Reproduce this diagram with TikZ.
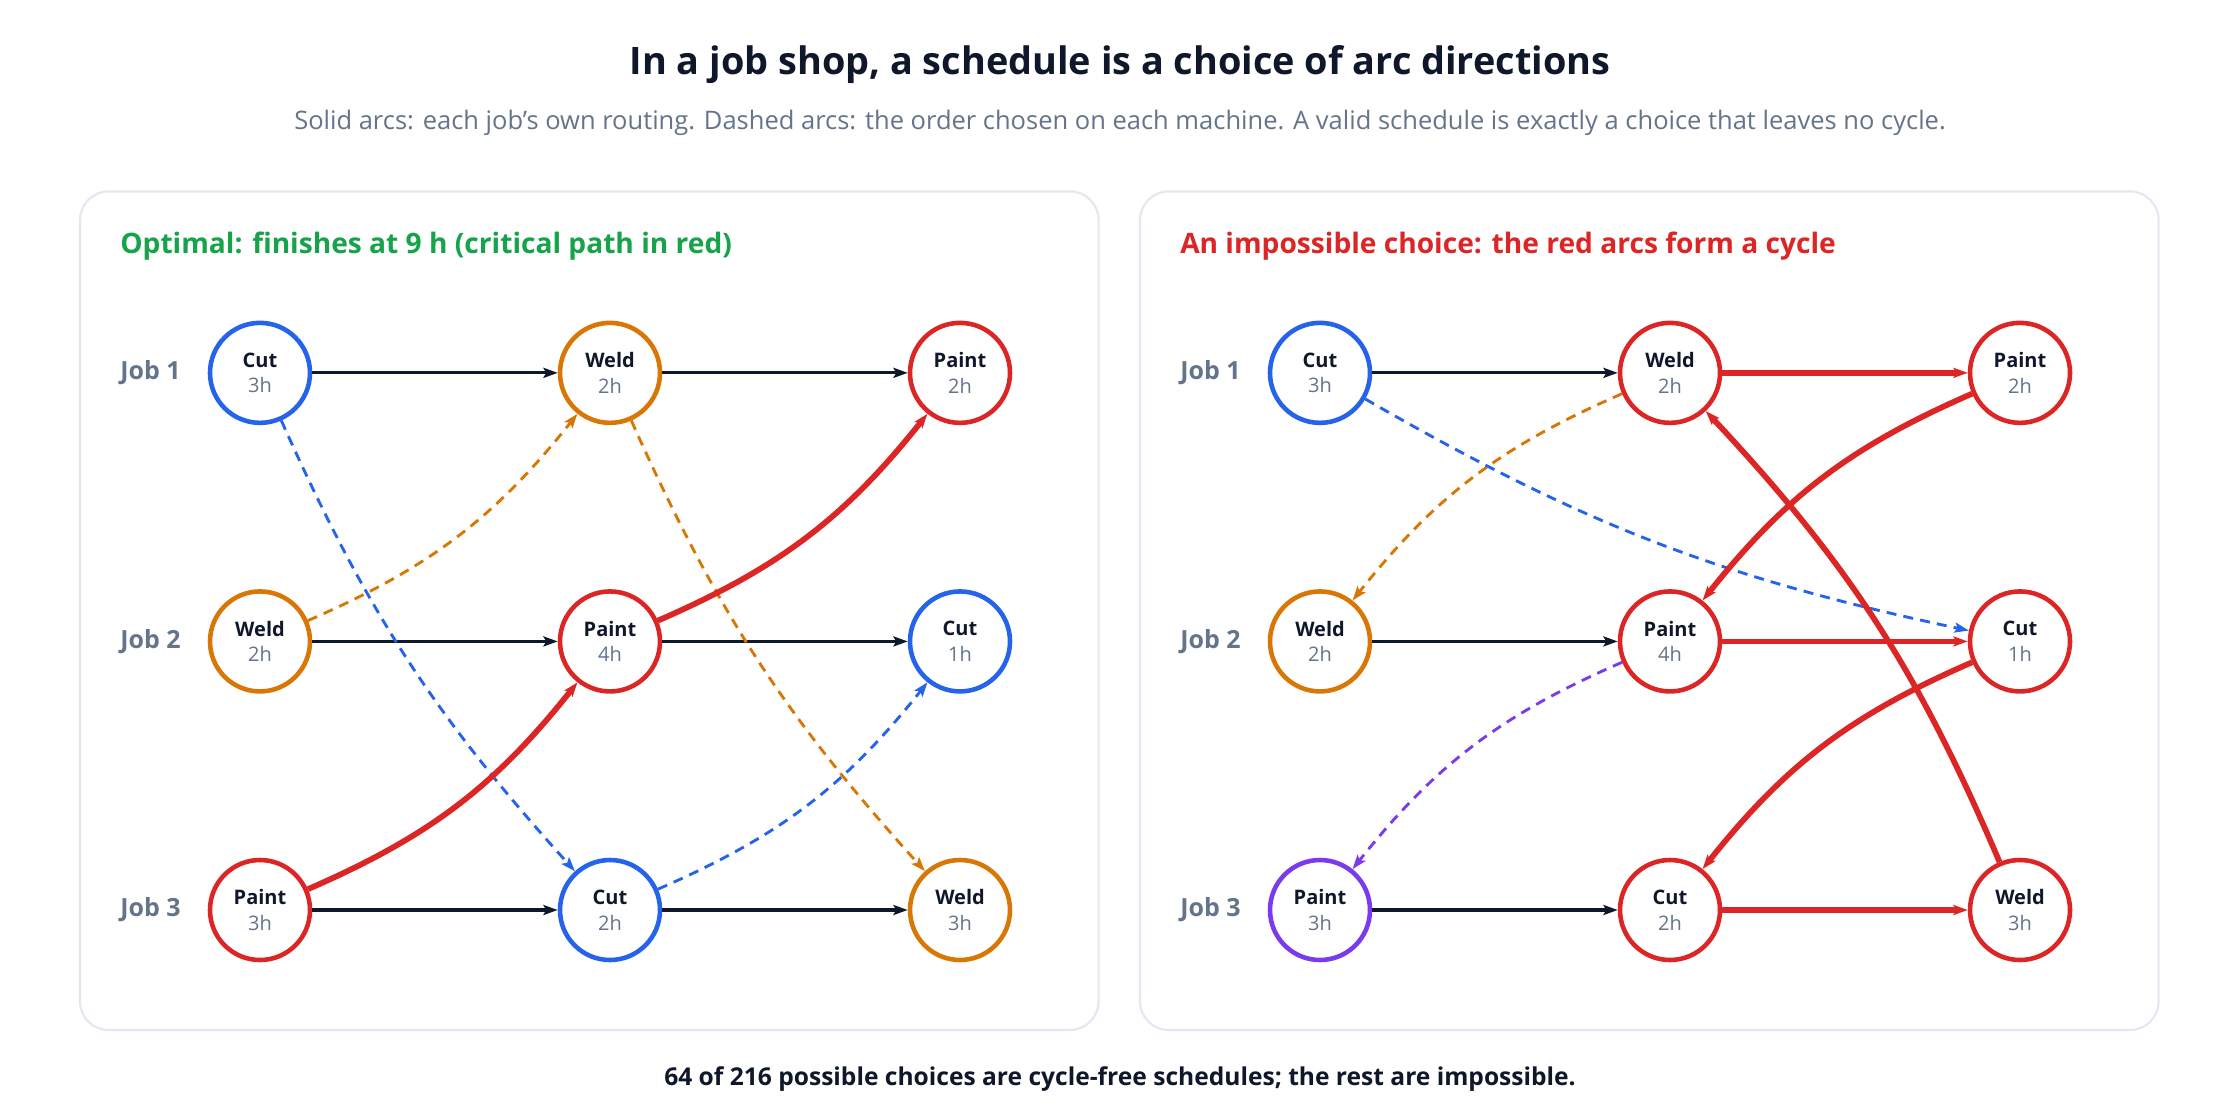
\documentclass[tikz,border=0pt]{standalone}
\usepackage{fontspec}
\setmainfont{Open Sans}
\usetikzlibrary{arrows.meta, positioning}

\definecolor{cutblue}{HTML}{2563EB}
\definecolor{weldorange}{HTML}{D97706}
\definecolor{paintred}{HTML}{DC2626}
\definecolor{okgreen}{HTML}{16A34A}
\definecolor{swapviolet}{HTML}{7C3AED}
\definecolor{ink}{HTML}{0F172A}
\definecolor{muted}{HTML}{64748B}
\definecolor{panelline}{HTML}{E2E8F0}

\tikzset{
  op/.style={circle, draw=#1, line width=3.2pt, minimum size=70pt, inner sep=0pt,
    fill=white, align=center, text=ink, font=\fontsize{14}{18}\selectfont},
  route/.style={-{Stealth[length=10pt,width=7pt,inset=2pt]}, draw=ink, line width=2.2pt},
  crit/.style={-{Stealth[length=10pt,width=7pt,inset=2pt]}, draw=paintred, line width=4pt},
  machine/.style={-{Stealth[length=10pt,width=7pt,inset=2pt]}, draw=#1, line width=2pt,
    dash pattern=on 7pt off 5pt},
  panel/.style={draw=panelline, line width=1.5pt, rounded corners=20pt, fill=white},
  joblabel/.style={anchor=west, inner sep=0pt, text=muted, font=\fontsize{17.5}{20}\selectfont\bfseries},
  paneltitle/.style={anchor=west, inner sep=0pt, font=\fontsize{19.7}{24}\selectfont\bfseries},
}
\newcommand{\opinfo}[2]{\raisebox{-2pt}{\textbf{#1}}\\\raisebox{-2pt}{\color{muted}#2}}

\begin{document}
\begin{tikzpicture}[x=1pt, y=1pt]
    \useasboundingbox[fill=white] (0,0) rectangle (1568,-784);

    % headings
    \node[text=ink, font=\fontsize{26.5}{30}\selectfont\bfseries] (title) at (784,-45)
        {In a job shop, a schedule is a choice of arc directions};
    \node[text=muted, font=\fontsize{17.85}{22}\selectfont] (subtitle) at (784,-86)
        {Solid arcs: each job's own routing. Dashed arcs: the order chosen on each machine. A valid schedule is exactly a choice that leaves no cycle.};

    % panels
    \draw[panel] (56,-134) rectangle (769,-721);
    \draw[panel] (798,-134) rectangle (1511,-721);
    \node[paneltitle, text=okgreen] (oktitle) at (84,-172) {Optimal: finishes at 9 h (critical path in red)};
    \node[paneltitle, text=paintred] (badtitle) at (826,-172) {An impossible choice: the red arcs form a cycle};

    % left panel: optimal schedule
    \node[joblabel] (okjob1) at (84,-261) {Job 1};
    \node[joblabel] (okjob2) at (84,-449) {Job 2};
    \node[joblabel] (okjob3) at (84,-637) {Job 3};
    \node[op=cutblue] (ok11) at (182,-261) {\opinfo{Cut}{3h}};
    \node[op=weldorange] (ok12) at (427,-261) {\opinfo{Weld}{2h}};
    \node[op=paintred] (ok13) at (672,-261) {\opinfo{Paint}{2h}};
    \node[op=weldorange] (ok21) at (182,-449) {\opinfo{Weld}{2h}};
    \node[op=paintred] (ok22) at (427,-449) {\opinfo{Paint}{4h}};
    \node[op=cutblue] (ok23) at (672,-449) {\opinfo{Cut}{1h}};
    \node[op=paintred] (ok31) at (182,-637) {\opinfo{Paint}{3h}};
    \node[op=cutblue] (ok32) at (427,-637) {\opinfo{Cut}{2h}};
    \node[op=weldorange] (ok33) at (672,-637) {\opinfo{Weld}{3h}};

    \draw[route] (ok11) -- (ok12);
    \draw[route] (ok12) -- (ok13);
    \draw[route] (ok21) -- (ok22);
    \draw[route] (ok22) -- (ok23);
    \draw[route] (ok31) -- (ok32);
    \draw[route] (ok32) -- (ok33);
    \draw[machine=cutblue] (ok11) to[bend right=9] (ok32);
    \draw[machine=cutblue] (ok32) to[bend right=14] (ok23);
    \draw[machine=weldorange] (ok21) to[bend right=14] (ok12);
    \draw[machine=weldorange] (ok12) to[bend right=9] (ok33);
    \draw[crit] (ok31) to[bend right=14] (ok22);
    \draw[crit] (ok22) to[bend right=14] (ok13);

    % right panel: a cyclic choice
    \node[joblabel] (badjob1) at (826,-261) {Job 1};
    \node[joblabel] (badjob2) at (826,-449) {Job 2};
    \node[joblabel] (badjob3) at (826,-637) {Job 3};
    \node[op=cutblue] (bad11) at (924,-261) {\opinfo{Cut}{3h}};
    \node[op=paintred] (bad12) at (1169,-261) {\opinfo{Weld}{2h}};
    \node[op=paintred] (bad13) at (1414,-261) {\opinfo{Paint}{2h}};
    \node[op=weldorange] (bad21) at (924,-449) {\opinfo{Weld}{2h}};
    \node[op=paintred] (bad22) at (1169,-449) {\opinfo{Paint}{4h}};
    \node[op=paintred] (bad23) at (1414,-449) {\opinfo{Cut}{1h}};
    \node[op=swapviolet] (bad31) at (924,-637) {\opinfo{Paint}{3h}};
    \node[op=paintred] (bad32) at (1169,-637) {\opinfo{Cut}{2h}};
    \node[op=paintred] (bad33) at (1414,-637) {\opinfo{Weld}{3h}};

    \draw[route] (bad11) -- (bad12);
    \draw[route] (bad21) -- (bad22);
    \draw[route] (bad31) -- (bad32);
    \draw[crit] (bad12) -- (bad13);
    \draw[crit] (bad22) -- (bad23);
    \draw[crit] (bad32) -- (bad33);
    \draw[machine=weldorange] (bad12) to[bend right=14] (bad21);
    \draw[machine=cutblue] (bad11) to[bend right=9] (bad23);
    \draw[machine=swapviolet] (bad22) to[bend right=14] (bad31);
    \draw[crit] (bad13) to[bend right=14] (bad22);
    \draw[crit] (bad23) to[bend right=14] (bad32);
    \draw[crit] (bad33) to[bend right=10] (bad12);

    % footer
    \node[text=ink, font=\fontsize{17.2}{20}\selectfont\bfseries] (footer) at (784,-755)
        {64 of 216 possible choices are cycle-free schedules; the rest are impossible.};
\end{tikzpicture}
\end{document}
